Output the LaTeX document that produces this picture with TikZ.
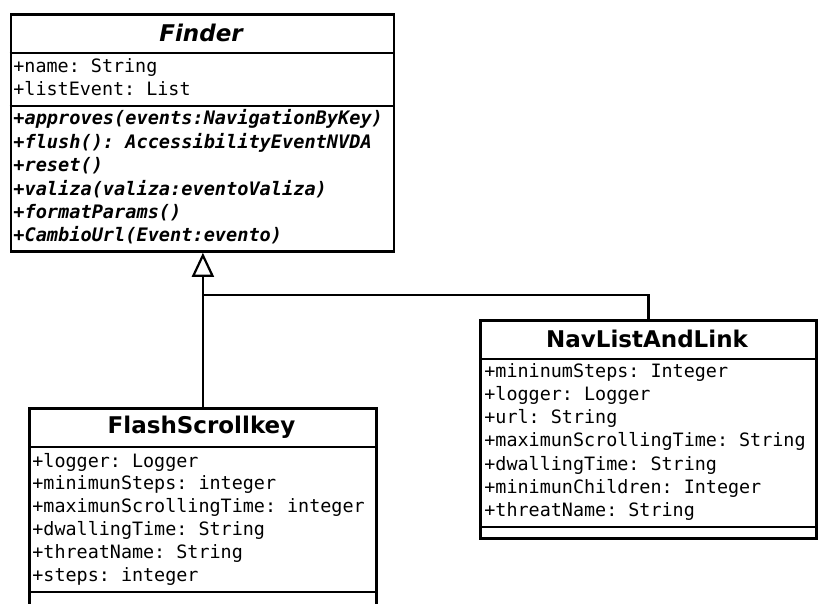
\documentclass[tikz,border=0pt]{standalone}
\usepackage{fontspec}
\setmainfont{DejaVu Sans}
\setmonofont{DejaVu Sans Mono}
\usetikzlibrary{arrows.meta}

\tikzset{
	classbox/.style={draw, line width=1.4pt, inner sep=0pt, anchor=north west},
	classname/.style={font=\fontsize{11.5}{13}\selectfont\bfseries},
	member/.style={anchor=base west, inner sep=0pt, font=\fontsize{9.2}{11}\selectfont\ttfamily},
	operation/.style={member, font=\fontsize{9.3}{11}\selectfont\ttfamily\bfseries\itshape},
	sep/.style={line width=1.4pt},
	inherit/.style={line width=1.1pt, -{Triangle[open, length=12pt, width=11pt]}},
}

\begin{document}
\begin{tikzpicture}[x=0.5pt, y=-0.5pt, line join=miter]
	\useasboundingbox[fill=white] (0,0) rectangle (819,604);
	\clip (0,0) rectangle (819,604);
	
	% Finder
	\node[classbox, minimum width=191.5pt, minimum height=118.5pt] (finder) at (9.5,13) {};
	\node[classname, font=\fontsize{11.5}{13}\selectfont\bfseries\itshape] (findername) at (201,33) {Finder};
	\draw[sep] (9.5,53) -- (392.5,53);
	\draw[sep] (9.5,106) -- (392.5,106);
	\foreach \txt [count=\i] in {+name: String, +listEvent: List}
		\node[member] (fa\i) at (13,50.5+22.5*\i) {\txt};
	\foreach \txt [count=\i] in {+approves(events:NavigationByKey), +flush(): AccessibilityEventNVDA, +reset(), +valiza(valiza:eventoValiza), +formatParams(), +CambioUrl(Event:evento)}
		\node[operation] (fm\i) at (13,101.6+23.4*\i) {\txt};
	
	% FlashScrollkey
	\node[classbox, minimum width=173.5pt, minimum height=110pt] (flash) at (28,407) {};
	\node[classname] (flashname) at (201.5,427) {FlashScrollkey};
	\draw[sep] (28,447) -- (375,447);
	\draw[sep] (28,592) -- (375,592);
	\foreach \txt [count=\i] in {+logger: Logger, +minimunSteps: integer, +maximunScrollingTime: integer, +dwallingTime: String, +threatName: String, +steps: integer}
		\node[member] (sa\i) at (32,444.2+22.8*\i) {\txt};
	
	% NavListAndLink
	\node[classbox, minimum width=168pt, minimum height=109pt] (nav) at (479,319) {};
	\node[classname] (navname) at (647,339) {NavListAndLink};
	\draw[sep] (479,359) -- (815,359);
	\draw[sep] (479,527) -- (815,527);
	\foreach \txt [count=\i] in {+mininumSteps: Integer, +logger: Logger, +url: String, +maximunScrollingTime: String, +dwallingTime: String, +minimunChildren: Integer, +threatName: String}
		\node[member] (na\i) at (484,353.7+23.3*\i) {\txt};
	
	% herencia
	\coordinate (join) at (flash.north |- 0,295);
	\draw[line width=1.1pt] (nav.north) |- (join);
	\draw[inherit] (flash.north) -- (flash.north |- finder.south);
\end{tikzpicture}
\end{document}
